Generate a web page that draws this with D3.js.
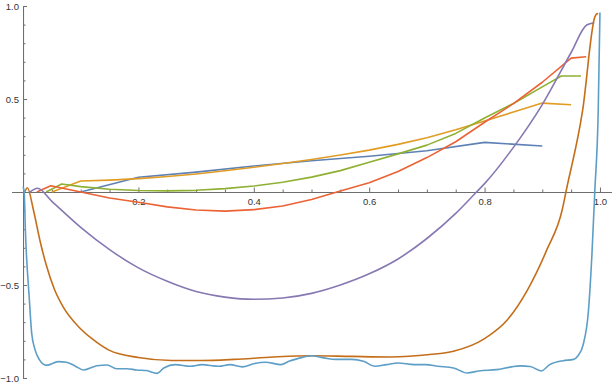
<!DOCTYPE html>
<html>
<head>
<meta charset="utf-8">
<script src="https://cdn.jsdelivr.net/npm/d3@7"></script>
<style>
  html, body { margin: 0; padding: 0; background: #fff; }
  svg { display: block; }
  .axis path, .axis line { stroke: #6e6e6e; stroke-width: 1; }
  .axis text { font-family: "Liberation Sans", Arial, sans-serif; font-size: 9.5px; fill: #333; }
</style>
</head>
<body>
<div id="chart"></div>
<script>
// series, as [x, y] points
const blueSeries = [[0.1, 0], [0.2, 0.079], [0.3, 0.107], [0.4, 0.14], [0.5, 0.168], [0.6, 0.192],
  [0.7, 0.222], [0.8, 0.267], [0.9, 0.247]];

const orangeSeries = [[0.05, 0], [0.1, 0.059], [0.15, 0.064], [0.2, 0.072], [0.25, 0.083], [0.3, 0.097],
  [0.35, 0.114], [0.4, 0.133], [0.45, 0.153], [0.5, 0.175], [0.55, 0.199], [0.6, 0.225], [0.65, 0.256],
  [0.7, 0.292], [0.75, 0.335], [0.8, 0.382], [0.85, 0.43], [0.9, 0.478], [0.95, 0.469]];

const greenSeries = [[0.04, 0], [0.067, 0.043], [0.1, 0.029], [0.15, 0.015], [0.2, 0.008], [0.25, 0.006],
  [0.3, 0.009], [0.35, 0.018], [0.4, 0.032], [0.45, 0.052], [0.5, 0.08], [0.55, 0.115], [0.6, 0.16],
  [0.65, 0.205], [0.7, 0.252], [0.75, 0.315], [0.8, 0.398], [0.85, 0.476], [0.9, 0.565], [0.933, 0.624],
  [0.967, 0.624]];

const redSeries = [[0.024, 0], [0.048, 0.034], [0.1, 0], [0.15, -0.032], [0.2, -0.055], [0.25, -0.08],
  [0.3, -0.097], [0.35, -0.103], [0.4, -0.095], [0.45, -0.075], [0.5, -0.04], [0.55, 0.005], [0.6, 0.05],
  [0.65, 0.11], [0.7, 0.185], [0.75, 0.27], [0.8, 0.375], [0.85, 0.475], [0.9, 0.59], [0.95, 0.72],
  [0.976, 0.727]];

const purpleSeries = [[0.012, 0], [0.025, 0.02], [0.05, -0.05], [0.1, -0.19], [0.15, -0.31], [0.2, -0.408],
  [0.25, -0.48], [0.3, -0.535], [0.35, -0.565], [0.4, -0.577], [0.45, -0.57], [0.5, -0.545], [0.55, -0.5],
  [0.6, -0.44], [0.65, -0.36], [0.7, -0.25], [0.75, -0.115], [0.786, 0], [0.8, 0.045], [0.85, 0.24],
  [0.9, 0.47], [0.95, 0.75], [0.977, 0.898], [0.99, 0.91]];

const darkOrangeSeries = [[0.003, 0], [0.0075, 0.023], [0.018, -0.097], [0.03, -0.27], [0.04, -0.39],
  [0.054, -0.52], [0.07, -0.62], [0.095, -0.72], [0.12, -0.79], [0.149, -0.85], [0.2, -0.89], [0.258, -0.906],
  [0.31, -0.906], [0.366, -0.9], [0.434, -0.887], [0.5, -0.88], [0.57, -0.884], [0.637, -0.887],
  [0.705, -0.874], [0.746, -0.856], [0.8, -0.788], [0.84, -0.685], [0.875, -0.523], [0.908, -0.31],
  [0.935, -0.09], [0.941, 0], [0.97, 0.44], [0.991, 0.94], [0.994, 0.957], [0.997, 0.96]];

const lightBlueSeries = [[0, 0.028], [0.002, 0], [0.004, -0.2], [0.011, -0.58], [0.015, -0.76],
  [0.021, -0.85], [0.028, -0.9], [0.035, -0.925], [0.041, -0.931], [0.061, -0.912], [0.075, -0.915],
  [0.09, -0.935], [0.105, -0.957], [0.128, -0.934], [0.146, -0.93], [0.162, -0.95], [0.18, -0.95],
  [0.197, -0.957], [0.214, -0.96], [0.232, -0.975], [0.244, -0.946], [0.264, -0.928], [0.29, -0.937],
  [0.31, -0.928], [0.339, -0.937], [0.359, -0.928], [0.38, -0.94], [0.4, -0.923], [0.42, -0.915],
  [0.447, -0.928], [0.461, -0.91], [0.475, -0.897], [0.5, -0.88], [0.522, -0.892], [0.542, -0.9],
  [0.57, -0.9], [0.59, -0.91], [0.61, -0.937], [0.63, -0.928], [0.65, -0.919], [0.678, -0.928],
  [0.698, -0.928], [0.719, -0.937], [0.746, -0.946], [0.77, -0.973], [0.79, -0.962], [0.821, -0.955],
  [0.847, -0.94], [0.862, -0.935], [0.879, -0.938], [0.898, -0.962], [0.913, -0.928], [0.936, -0.907],
  [0.954, -0.9], [0.962, -0.88], [0.971, -0.82], [0.98, -0.64], [0.986, -0.34], [0.991, 0],
  [0.997, 0.44], [1.0, 0.965]];

const seriesList = [blueSeries, orangeSeries, greenSeries, redSeries, purpleSeries, darkOrangeSeries, lightBlueSeries];
const seriesColors = ["#5E81B5", "#E19C24", "#8FB032", "#EB6235", "#8778B3", "#C56E1A", "#5D9EC7"];
const smoothSeries = [false, false, false, false, true, true, true];

const xMajorTicks = [0.2, 0.4, 0.6, 0.8, 1.0];
const yMajorTicks = [-1.0, -0.5, 0.5, 1.0];

const width = 613;
const height = 385;

const svg = d3.select('#chart')
  .append('svg')
  .attr('width', width)
  .attr('height', height);

const x = d3.scaleLinear().domain([-0.02, 1.02]).range([11.5, 611.5]);
const y = d3.scaleLinear().domain([-1, 1]).range([378, 6]);

// minor ticks every 0.05 on x, every 0.1 on y
const xMinor = d3.range(1, 21).map(i => i * 0.05).filter(v => !xMajorTicks.some(t => Math.abs(t - v) < 1e-6));
const yMinor = d3.range(-9, 10).map(i => i * 0.1)
  .filter(v => Math.abs(v) > 1e-6 && !yMajorTicks.some(t => Math.abs(t - v) < 1e-6));

const fmt = d3.format(".1f");

svg.append('g')
  .attr('class', 'axis')
  .attr('transform', `translate(0,${y(0)})`)
  .call(d3.axisBottom(x).tickValues(xMinor).tickSizeInner(-2.5).tickSizeOuter(0).tickFormat(''));

svg.append('g')
  .attr('class', 'axis')
  .attr('transform', `translate(0,${y(0)})`)
  .call(d3.axisBottom(x).tickValues(xMajorTicks).tickSizeInner(-4.5).tickSizeOuter(0).tickPadding(6).tickFormat(fmt));

svg.append('g')
  .attr('class', 'axis')
  .attr('transform', `translate(${x(0)},0)`)
  .call(d3.axisLeft(y).tickValues(yMinor).tickSizeInner(-2.5).tickSizeOuter(0).tickFormat(''));

svg.append('g')
  .attr('class', 'axis')
  .attr('transform', `translate(${x(0)},0)`)
  .call(d3.axisLeft(y).tickValues(yMajorTicks).tickSizeInner(-4).tickSizeOuter(0).tickPadding(4).tickFormat(fmt));

// lines
seriesList.forEach((data, i) => {
  const line = d3.line()
    .x(d => x(d[0]))
    .y(d => y(d[1]))
    .curve(smoothSeries[i] ? d3.curveMonotoneX : d3.curveLinear);
  svg.append('path')
    .datum(data)
    .attr('fill', 'none')
    .attr('stroke', seriesColors[i])
    .attr('stroke-width', 1.6)
    .attr('stroke-linejoin', 'round')
    .attr('d', line);
});
</script>
</body>
</html>
